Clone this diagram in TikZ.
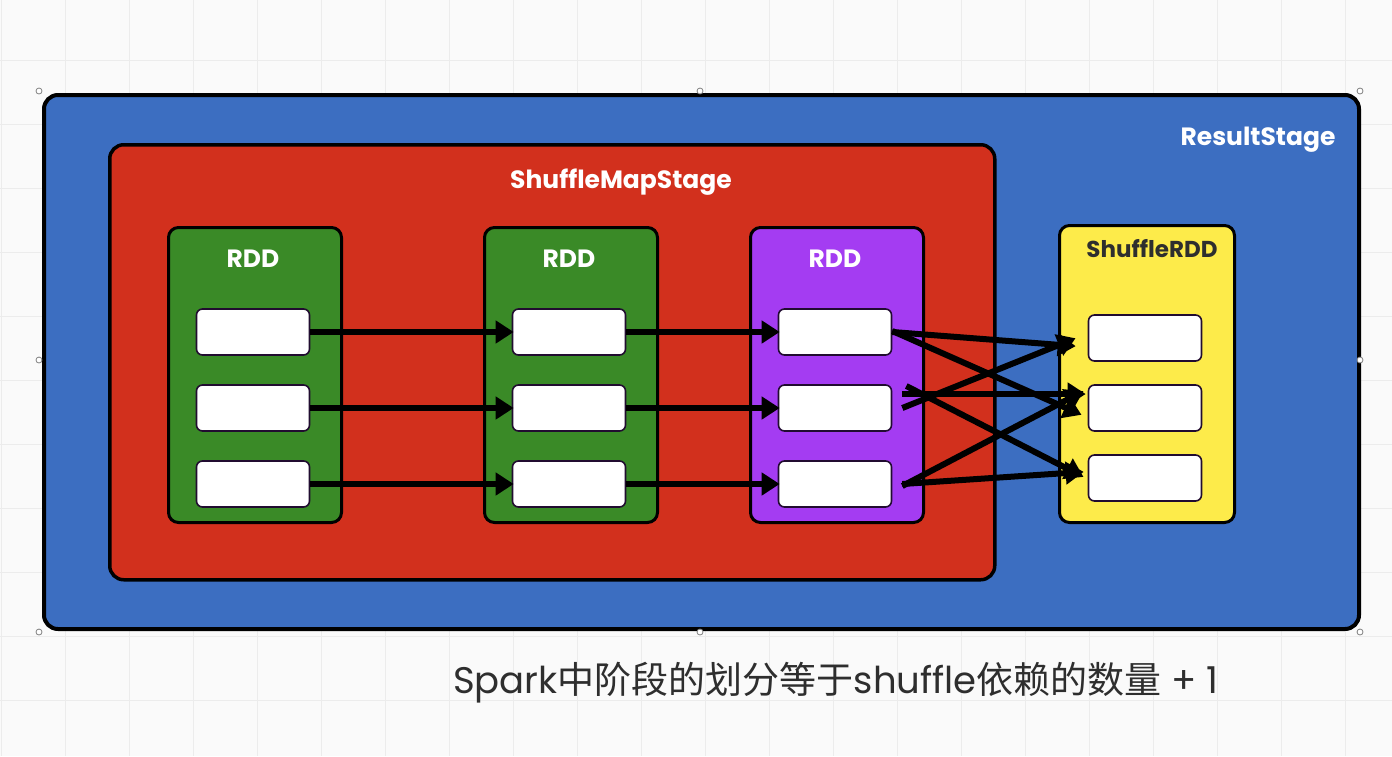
\documentclass[tikz,border=0pt]{standalone}
\usepackage{fontspec}
\setmainfont{Poppins}
\newfontfamily\cjk{Noto Sans CJK SC}
\usetikzlibrary{arrows.meta}
\definecolor{bgc}{HTML}{FAFAFA}
\definecolor{gridc}{HTML}{ECECEC}
\definecolor{blueS}{HTML}{3C6EC1}
\definecolor{redS}{HTML}{D2301D}
\definecolor{greenS}{HTML}{3A8A27}
\definecolor{purpS}{HTML}{A43CF2}
\definecolor{yelS}{HTML}{FDEB4A}
\definecolor{txtc}{HTML}{2E2E2E}
\tikzset{
  stagebox/.style={draw=black, line width=4pt, rounded corners=14pt, anchor=north west, inner sep=0pt},
  rddbox/.style={draw=black, line width=3pt, rounded corners=10pt, anchor=north west, inner sep=0pt, minimum width=173pt, minimum height=295pt},
  part/.style={draw=black!80!purpS, line width=1.6pt, fill=white, rounded corners=6pt, minimum width=113pt, minimum height=46pt, inner sep=0pt},
  lbl/.style={text=white, font=\fontsize{25}{28}\selectfont\bfseries},
  arr/.style={line width=6pt, -{Triangle[length=18pt,width=22pt]}, shorten >=-2pt},
  handle/.style={circle, draw=gray, fill=white, line width=0.8pt, minimum size=6pt, inner sep=0pt}
}
\begin{document}
\begin{tikzpicture}[x=1pt,y=-1pt]
\useasboundingbox (0,0) rectangle (1392,756);
\fill[bgc] (0,0) rectangle (1392,756);
\foreach \gx in {1,65,...,1392} \draw[gridc, line width=1pt] (\gx,0) -- (\gx,756);
\foreach \gy in {60,124,...,756} \draw[gridc, line width=1pt] (0,\gy) -- (1392,\gy);
% stages
\node[stagebox, fill=blueS, minimum width=1315pt, minimum height=534pt] (result) at (42,93) {};
\node[lbl, anchor=center] (resultlbl) at (1258,140) {ResultStage};
\node[stagebox, draw=black, line width=3.5pt, fill=redS, minimum width=885pt, minimum height=435pt] (smap) at (108,143) {};
\node[lbl, anchor=center] (smaplbl) at (621,182) {ShuffleMapStage};
% rdds
\node[rddbox, fill=greenS] (r1) at (167,226) {};
\node[rddbox, fill=greenS] (r2) at (483,226) {};
\node[rddbox, fill=purpS] (r3) at (749,226) {};
\node[rddbox, fill=yelS, minimum width=175pt, minimum height=297pt] (r4) at (1058,224) {};
\node[lbl, anchor=center] (r1l) at (253,259) {RDD};
\node[lbl, anchor=center] (r2l) at (569,259) {RDD};
\node[lbl, anchor=center] (r3l) at (835,259) {RDD};
\node[lbl, anchor=center, text=txtc, font=\fontsize{23}{26}\selectfont\bfseries] (r4l) at (1152,249) {ShuffleRDD};
% partitions
\foreach \n/\cx in {a/253,b/569,c/835}{
  \node[part] (\n1) at (\cx,332) {};
  \node[part] (\n2) at (\cx,408) {};
  \node[part] (\n3) at (\cx,484) {};
}
\node[part] (d1) at (1145,338) {};
\node[part] (d2) at (1145,408) {};
\node[part] (d3) at (1145,478) {};
% narrow arrows
\foreach \i in {1,2,3}{
  \draw[arr] (a\i.east) -- (b\i.west);
  \draw[arr] (b\i.east) -- (c\i.west);
}
% shuffle arrows
\coordinate (t1a) at ([xshift=-14pt,yshift=-8pt]d1.west);
\coordinate (t1b) at ([xshift=-14pt,yshift=-1pt]d1.west);
\coordinate (t2a) at ([xshift=-8pt,yshift=-6pt]d2.west);
\coordinate (t2b) at ([xshift=-4pt,yshift=14pt]d2.west);
\coordinate (t2c) at ([xshift=-6pt,yshift=16pt]d2.west);
\coordinate (t3a) at ([xshift=-6pt,yshift=2pt]d3.west);
\coordinate (t3b) at ([xshift=-6pt,yshift=6pt]d3.west);
\draw[arr] (c1.east) -- (t1a);
\draw[arr] ([yshift=1pt]c1.east) -- (t2a);
\draw[arr] ([xshift=10pt,yshift=0pt]c2.east) -- (t1b);
\draw[arr] ([xshift=10pt,yshift=14pt]c2.east) -- (t2b);
\draw[arr] ([xshift=14pt,yshift=22pt]c2.east) -- (t3a);
\draw[arr] ([xshift=10pt,yshift=-2pt]c3.east) -- (t2c);
\draw[arr] ([xshift=10pt,yshift=0pt]c3.east) -- (t3b);
% selection handles
\foreach \hx/\hy [count=\k] in {39/91,700/91,1360/91,39/360,1360/360,39/632,700/632,1360/632}
  \node[handle] (h\k) at (\hx,\hy) {};
% caption
\node[text=txtc, font=\fontsize{37}{40}\selectfont, anchor=center] (cap) at (836,683) {Spark{\cjk 中阶段的划分等于}shuffle{\cjk 依赖的数量} + 1};
\end{tikzpicture}
\end{document}
